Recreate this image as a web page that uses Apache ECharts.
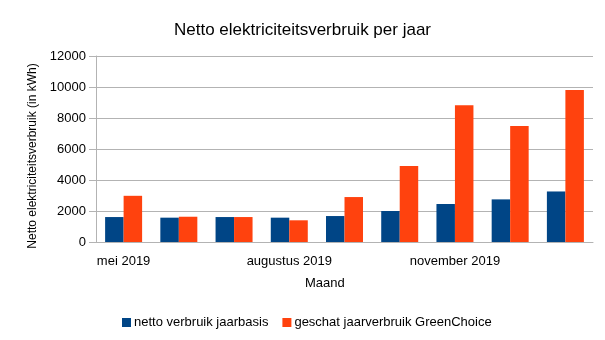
<!DOCTYPE html>
<html><head><meta charset="utf-8">
<script src="https://cdn.jsdelivr.net/npm/echarts@6/dist/echarts.min.js"></script>
<style>html,body{margin:0;padding:0;background:#fff}#c{width:605px;height:340px}</style>
</head><body><div id="c"></div>
<script>
const categories = ['mei 2019','juni 2019','juli 2019','augustus 2019','september 2019','oktober 2019','november 2019','december 2019','januari 2020'];
const nettoVerbruik = [1610, 1570, 1610, 1570, 1675, 2000, 2450, 2750, 3260];
const geschatVerbruik = [2980, 1630, 1610, 1400, 2900, 4900, 8820, 7490, 9810];
const yTicks = [0, 2000, 4000, 6000, 8000, 10000, 12000];
const font = 'Liberation Sans, Arial, sans-serif';
const chart = echarts.init(document.getElementById('c'), null, {renderer:'canvas'});
chart.setOption({
  animation:false,
  title:{text:'Netto elektriciteitsverbruik per jaar', left:'center', top:17,
    textStyle:{fontFamily:font, fontSize:17, fontWeight:'normal', color:'#000'}},
  grid:{left:96, right:12, top:56, bottom:98},
  legend:{bottom:6, left:117, itemWidth:9, itemHeight:9, itemGap:14,
    icon:'rect', textStyle:{fontFamily:font, fontSize:13, color:'#000', padding:[0,0,0,-2]},
    data:['netto verbruik jaarbasis','geschat jaarverbruik GreenChoice']},
  graphic:[{type:'text', left:305, top:277, style:{text:'Maand', font:'13px '+font, fill:'#000'}}],
  xAxis:{type:'category', data:categories,
    axisLine:{lineStyle:{color:'#b3b3b3'}},
    axisTick:{interval:2, length:6, lineStyle:{color:'#b3b3b3'}},
    axisLabel:{interval:2, margin:13, fontFamily:font, fontSize:13, color:'#000'}},
  yAxis:{type:'value', min:yTicks[0], max:yTicks[yTicks.length-1], interval:2000,
    name:'Netto elektriciteitsverbruik (in kWh)', nameLocation:'middle', nameGap:55, nameRotate:90,
    nameTextStyle:{fontFamily:font, fontSize:12, color:'#000', padding:[0,0,0,-14]},
    axisLine:{show:true, lineStyle:{color:'#b3b3b3'}},
    axisTick:{show:true, length:7, lineStyle:{color:'#b3b3b3'}},
    splitLine:{lineStyle:{color:'#b3b3b3'}},
    axisLabel:{margin:10, fontFamily:font, fontSize:13, color:'#000', formatter:v=>String(v)}},
  series:[
    {name:'netto verbruik jaarbasis', type:'bar', data:nettoVerbruik, barGap:'0%', barCategoryGap:'33%',
      itemStyle:{color:'#004586'}},
    {name:'geschat jaarverbruik GreenChoice', type:'bar', data:geschatVerbruik, barGap:'0%', barCategoryGap:'33%',
      itemStyle:{color:'#ff420e'}}
  ]
});
</script></body></html>
